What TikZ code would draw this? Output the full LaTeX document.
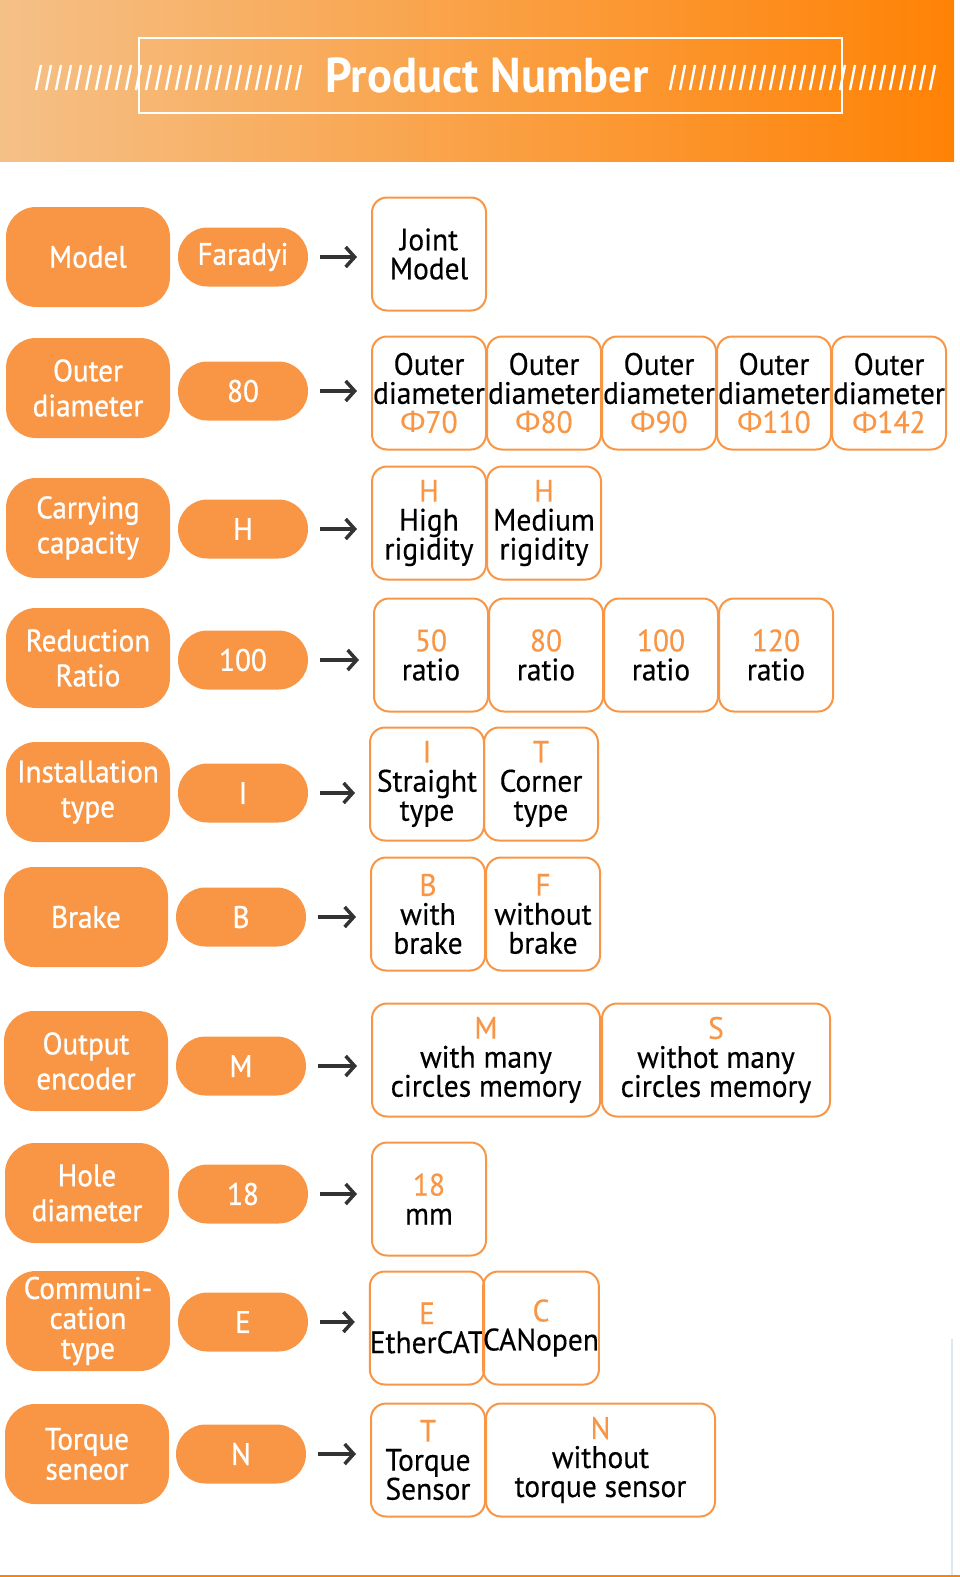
\documentclass[tikz,border=0pt]{standalone}
\usepackage{fontspec}
\setmainfont{PT Sans}[FakeStretch=0.95]
\newfontfamily\whitefont{PT Sans}[FakeStretch=0.94, FakeBold=0.9]
\newfontfamily\blackfont{PT Sans}[FakeStretch=0.95, FakeBold=0.4]
\newfontfamily\phifont{Fira Sans}
\usetikzlibrary{arrows.meta}

\definecolor{pillorange}{RGB}{248,150,70}
\definecolor{arrowgray}{RGB}{51,51,51}
\definecolor{headleft}{RGB}{245,192,135}
\definecolor{headmid}{RGB}{250,158,75}
\definecolor{headright}{RGB}{255,130,5}
\definecolor{edgeblue}{RGB}{222,230,242}

\newcommand{\code}[1]{{\color{pillorange}#1}}
\newcommand{\dia}{{\phifont Φ}}

\tikzset{
  keypill/.style={fill=pillorange, rounded corners=30pt, minimum width=164pt,
    minimum height=100pt, inner sep=0pt, text=white, align=center,
    font=\fontsize{31}{35}\selectfont\whitefont},
  valpill/.style={fill=pillorange, rounded corners=29.5pt, minimum width=130pt,
    minimum height=59pt, inner sep=0pt, text=white,
    font=\fontsize{31}{35}\selectfont\whitefont},
  optbox/.style={draw=pillorange, line width=2pt, rounded corners=15pt,
    minimum width=114pt, minimum height=113pt, inner sep=0pt, align=center,
    font=\fontsize{31}{29}\selectfont\blackfont},
  widebox/.style={optbox, minimum width=228pt},
  pick/.style={draw=arrowgray, line width=3.5pt,
    -{Straight Barb[length=9pt,width=20pt,line width=3.5pt]},
    shorten <=12pt, shorten >=14pt},
  hatch/.style={white, line width=2.4pt},
}

\begin{document}
\begin{tikzpicture}[x=1pt,y=-1pt]
\useasboundingbox (0,0) rectangle (960,1577);

\shade[left color=headleft, middle color=headmid, right color=headright] (0,0) rectangle (954,161);
\draw[white, line width=1.3pt] (139,38) rectangle (842,113);
\foreach \i in {0,...,26} {
  \draw[hatch] (36+10*\i,90) -- (41+10*\i,65);
  \draw[hatch] (670+10*\i,90) -- (675+10*\i,65);
}
\node[text=white, font=\fontsize{49}{49}\selectfont\bfseries] (title) at (487,75) {Product Number};

\node[keypill] (model) at (88,257) {Model};
\node[valpill] (faradyi) at (243,257) {Faradyi};
\node[optbox] (joint) at (429,254) {Joint\\Model};
\draw[pick] (faradyi.east) -- (faradyi.east -| joint.west);

\node[keypill] (outer) at (88,388) {Outer\\diameter};
\node[valpill] (eighty) at (243,391) {80};
\node[optbox] (d70) at (429,393) {Outer\\diameter\\\code{\dia70}};
\node[optbox] (d80) at (544,393) {Outer\\diameter\\\code{\dia80}};
\node[optbox] (d90) at (659,393) {Outer\\diameter\\\code{\dia90}};
\node[optbox] (d110) at (774,393) {Outer\\diameter\\\code{\dia110}};
\node[optbox] (d142) at (889,393) {Outer\\diameter\\\code{\dia142}};
\draw[pick] (eighty.east) -- (eighty.east -| d70.west);

\node[keypill] (carry) at (88,528) {Carrying\\capacity};
\node[valpill] (hval) at (243,529) {H};
\node[optbox] (high) at (429,523) {\code{H}\\High\\rigidity};
\node[optbox] (medium) at (544,523) {\code{H}\\Medium\\rigidity};
\draw[pick] (hval.east) -- (hval.east -| high.west);

\node[keypill] (reduct) at (88,658) {Reduction\\Ratio};
\node[valpill] (hundred) at (243,660) {100};
\node[optbox] (r50) at (431,655) {\code{50}\\ratio};
\node[optbox] (r80) at (546,655) {\code{80}\\ratio};
\node[optbox] (r100) at (661,655) {\code{100}\\ratio};
\node[optbox] (r120) at (776,655) {\code{120}\\ratio};
\draw[pick] (hundred.east) -- (hundred.east -| r50.west);

\node[keypill] (install) at (88,792) {Installation\\type};
\node[valpill] (ival) at (243,793) {I};
\node[optbox] (straight) at (427,784) {\code{I}\\Straight\\type};
\node[optbox] (corner) at (541,784) {\code{T}\\Corner\\type};
\draw[pick] (ival.east) -- (ival.east -| straight.west);

\node[keypill] (brake) at (86,917) {Brake};
\node[valpill] (bval) at (241,917) {B};
\node[optbox] (withb) at (428,914) {\code{B}\\with\\brake};
\node[optbox] (nobrake) at (543,914) {\code{F}\\without\\brake};
\draw[pick] (bval.east) -- (bval.east -| withb.west);

\node[keypill] (encoder) at (86,1061) {Output\\encoder};
\node[valpill] (mval) at (241,1066) {M};
\node[widebox] (many) at (486,1060) {\code{M}\\with many\\circles memory};
\node[widebox] (single) at (716,1060) {\code{S}\\withot many\\circles memory};
\draw[pick] (mval.east) -- (mval.east -| many.west);

\node[keypill] (hole) at (87,1193) {Hole\\diameter};
\node[valpill] (eighteen) at (243,1194) {18};
\node[optbox] (mm) at (429,1199) {\code{18}\\mm};
\draw[pick] (eighteen.east) -- (eighteen.east -| mm.west);

\node[keypill, font=\fontsize{31}{30}\selectfont\whitefont] (comm) at (88,1321) {Communi-\\cation\\type};
\node[valpill] (eval) at (243,1322) {E};
\node[optbox] (ecat) at (427,1328) {\code{E}\\EtherCAT};
\node[optbox] (canopen) at (541,1328) {\code{C}\\CANopen};
\draw[pick] (eval.east) -- (eval.east -| ecat.west);

\node[keypill, font=\fontsize{31}{30}\selectfont\whitefont] (torque) at (87,1454) {Torque\\seneor};
\node[valpill] (nval) at (241,1454) {N};
\node[optbox] (sensor) at (428,1460) {\code{T}\\Torque\\Sensor};
\node[optbox, minimum width=229pt] (nosensor) at (600.5,1460) {\code{N}\\without\\torque sensor};
\draw[pick] (nval.east) -- (nval.east -| sensor.west);

\draw[edgeblue, line width=2pt] (952,1339) -- (952,1577);
\draw[headright, line width=1.5pt] (0,1576) -- (960,1576);
\end{tikzpicture}
\end{document}
